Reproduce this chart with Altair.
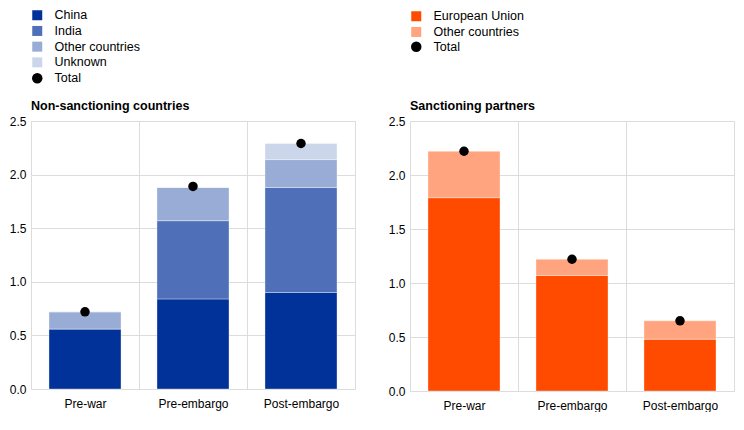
import altair as alt
import pandas as pd

categories = ["Pre-war", "Pre-embargo", "Post-embargo"]

left_title = "Non-sanctioning countries"
left_series = ["China", "India", "Other countries", "Unknown"]
left_colors = ["#003299", "#4f6fb9", "#99acd6", "#ccd6eb"]
left_china = [0.56, 0.84, 0.90]
left_india = [0.0, 0.73, 0.98]
left_other = [0.16, 0.31, 0.26]
left_unknown = [0.0, 0.0, 0.15]
left_total = [0.72, 1.89, 2.29]

right_title = "Sanctioning partners"
right_series = ["European Union", "Other countries"]
right_colors = ["#ff4b00", "#ffa47e"]
right_eu = [1.79, 1.07, 0.48]
right_other = [0.43, 0.15, 0.17]
right_total = [2.22, 1.22, 0.65]

y_ticks = [0, 0.5, 1.0, 1.5, 2.0, 2.5]

FONT = "Arial, Liberation Sans"
GRID = "#dcdcdc"


def panel(title, series, colors, values, totals, legend_y, total_legend_y, height):
    rows = []
    for si, (s, vals) in enumerate(zip(series, values)):
        for ci, c in enumerate(categories):
            rows.append({"cat": c, "series": s, "value": vals[ci], "order": si})
    bars_df = pd.DataFrame(rows)
    tot_df = pd.DataFrame({"cat": categories, "total": totals, "label": ["Total"] * len(categories)})
    title_df = pd.DataFrame({"t": [title]})

    x = alt.X(
        "cat:N",
        sort=categories,
        title=None,
        scale=alt.Scale(paddingInner=0, paddingOuter=0),
        axis=alt.Axis(
            labelAngle=0,
            grid=True,
            tickBand="extent",
            ticks=False,
            domain=False,
            labelPadding=9,
            labelFontSize=12,
            labelColor="#000000",
            gridColor=GRID,
        ),
    )
    y_scale = alt.Scale(domain=[0, 2.5], nice=False)
    y_axis = alt.Axis(
        values=y_ticks,
        format=".1f",
        ticks=False,
        tickSize=0,
        domain=False,
        labelPadding=5,
        labelFontSize=12,
        labelColor="#000000",
        gridColor=GRID,
    )

    bars = alt.Chart(bars_df).mark_bar(
        width=alt.RelativeBandSize(0.667),
        stroke="#ffffff",
        strokeWidth=1,
        strokeOpacity=0.35,
    ).encode(
        x=x,
        y=alt.Y("value:Q", stack="zero", scale=y_scale, axis=y_axis, title=None),
        color=alt.Color(
            "series:N",
            scale=alt.Scale(domain=series, range=colors),
            legend=alt.Legend(
                orient="none",
                legendX=0,
                legendY=legend_y,
                title=None,
                symbolType="square",
                symbolSize=100,
                symbolStrokeWidth=0,
                labelFontSize=12.5,
                labelFont=FONT,
                labelColor="#000000",
                labelOffset=11,
                rowPadding=2.7,
                labelLimit=300,
            ),
        ),
        order=alt.Order("order:Q", sort="ascending"),
    )

    points = alt.Chart(tot_df).mark_point(filled=True, color="#000000", size=90, opacity=1).encode(
        x=alt.X("cat:N", sort=categories),
        y=alt.Y("total:Q", scale=y_scale),
        shape=alt.Shape(
            "label:N",
            scale=alt.Scale(domain=["Total"], range=["circle"]),
            legend=alt.Legend(
                orient="none",
                legendX=0,
                legendY=total_legend_y,
                title=None,
                symbolSize=110,
                symbolFillColor="#000000",
                symbolStrokeColor="#000000",
                labelFontSize=12.5,
                labelFont=FONT,
                labelColor="#000000",
                labelOffset=11,
            ),
        ),
    )

    ttl = alt.Chart(title_df).mark_text(
        align="left", baseline="middle", fontWeight="bold", fontSize=12.5, font=FONT, color="#000000"
    ).encode(x=alt.value(0), y=alt.value(-15), text="t:N")

    return alt.layer(bars, points, ttl).properties(width=324, height=height)


left = panel(left_title, left_series, left_colors,
             [left_china, left_india, left_other, left_unknown], left_total, -112, -49, 268)
right = panel(right_title, right_series, right_colors,
              [right_eu, right_other], right_total, -111, -80.5, 270)

chart = alt.hconcat(left, right, spacing=31).resolve_scale(
    color="independent", shape="independent"
).properties(
    padding=0
).configure(
    font=FONT,
).configure_view(
    stroke=GRID,
    strokeWidth=1,
).configure_axis(
    labelFont=FONT,
    gridColor=GRID,
)

chart.save("out.html", embed_options={"renderer": "svg", "actions": False})
